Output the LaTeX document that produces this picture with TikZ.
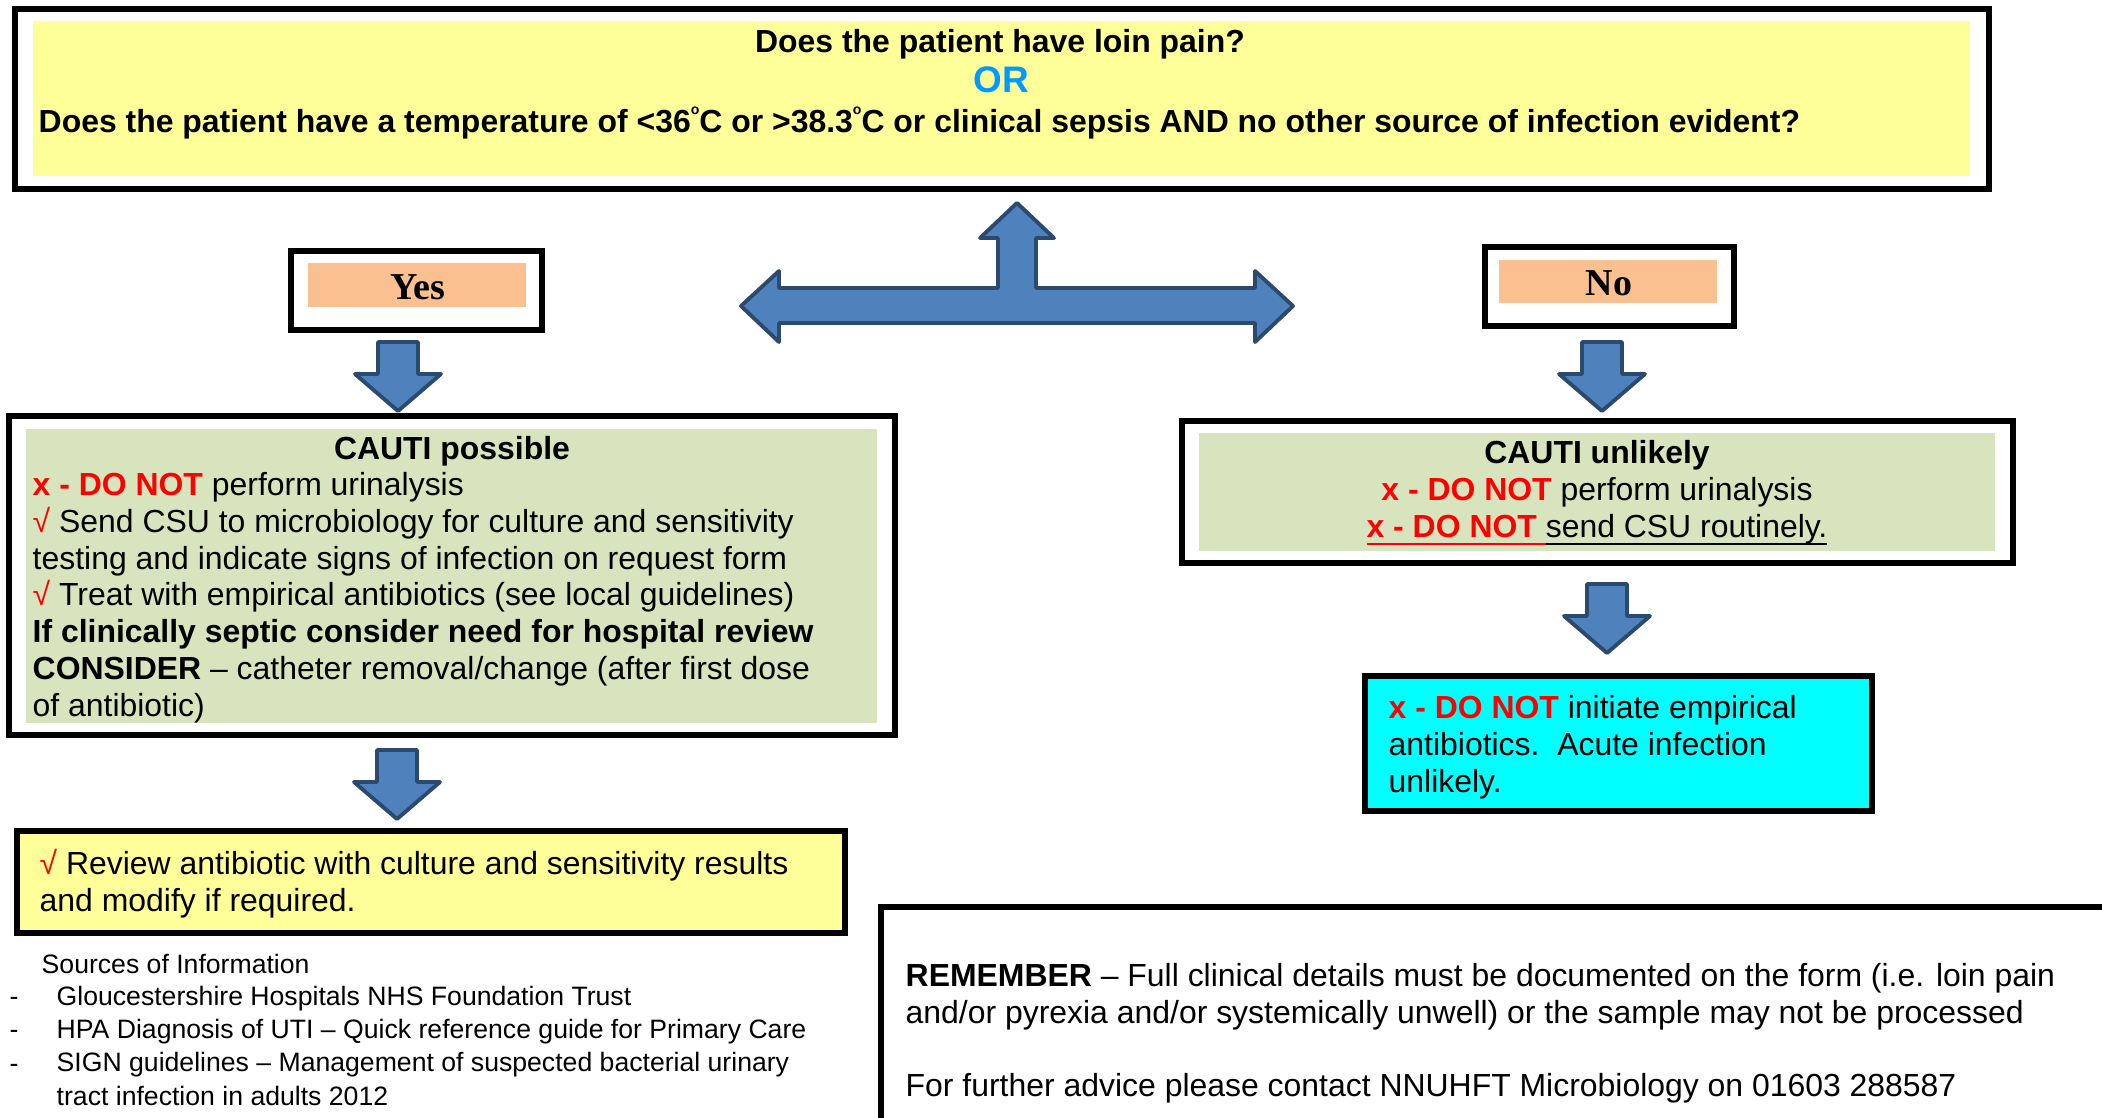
\documentclass[tikz,border=0pt]{standalone}
\usepackage{fontspec}
\setmainfont{Liberation Sans}
\newfontfamily\ynfont{Liberation Serif}

\definecolor{qyellow}{HTML}{FFFF99}
\definecolor{ynorange}{HTML}{FAC090}
\definecolor{cgreen}{HTML}{D7E4BD}
\definecolor{cyanbox}{HTML}{00FFFF}
\definecolor{arrowblue}{HTML}{4F81BD}
\definecolor{arrowedge}{HTML}{2C4A6E}
\definecolor{orblue}{HTML}{0099FF}

\newcommand{\mainsize}{\fontsize{9.08pt}{10.44pt}\selectfont}
\newcommand{\srcsize}{\fontsize{7.57pt}{9.47pt}\selectfont}
\newcommand{\donot}{\textcolor{red}{\bfseries x - DO NOT}}
\newcommand{\redtick}{\textcolor{red}{\symbol{"221A}}}
\newcommand{\degsup}{\raisebox{0.55em}{\fontsize{4pt}{4pt}\selectfont o}}
\newcommand{\thickul}[1]{\leavevmode\setbox0\hbox{#1}\rlap{\rule[-2.4pt]{\wd0}{0.6pt}}\box0}

\tikzset{
  frame/.style={draw, line width=1.7pt, inner sep=0pt},
  txt/.style={inner sep=0pt, font=\mainsize, align=left, anchor=base west},
  blockarrow/.style={fill=arrowblue, draw=arrowedge, line width=1.1pt, line join=round},
  downarrow/.pic={\draw[blockarrow] (-20,0) -- (20,0) -- (20,32) -- (43,32) -- (0,69) -- (-43,32) -- (-20,32) -- cycle;}
}

\begin{document}
\begin{tikzpicture}[x=0.01cm, y=-0.01cm]
\useasboundingbox (0,0) rectangle (2102,1118);

% coloured fills
\fill[qyellow] (33,21) rectangle (1970,176);
\fill[ynorange] (308,263) rectangle (526,307);
\fill[ynorange] (1499,260) rectangle (1717,303);
\fill[cgreen] (26,429) rectangle (877,723);
\fill[cgreen] (1199,433) rectangle (1995,551);

% frames
\node[frame, minimum width=19.72cm, minimum height=1.80cm] (question) at (1002,99) {};
\node[frame, minimum width=2.51cm, minimum height=0.79cm] (yes) at (416.5,290.5) {};
\node[frame, minimum width=2.49cm, minimum height=0.79cm] (no) at (1609.5,286.5) {};
\node[frame, minimum width=8.86cm, minimum height=3.19cm] (possible) at (452,575.5) {};
\node[frame, minimum width=8.31cm, minimum height=1.42cm] (unlikely) at (1597.5,492) {};
\node[frame, fill=qyellow, minimum width=8.28cm, minimum height=1.02cm] (review) at (431,882) {};
\node[frame, fill=cyanbox, minimum width=5.07cm, minimum height=1.35cm] (noabx) at (1618.5,743.5) {};
\draw[frame] (2102,907) -- (881,907) -- (881,1118);

% question
\node[txt, anchor=base, font=\mainsize\bfseries] (loin) at (1000,52) {Does the patient have loin pain?};
\node[txt, anchor=base, font=\fontsize{10.5pt}{12pt}\selectfont\bfseries, text=orblue] (or) at (1001,92) {OR};
\node[txt, font=\mainsize\bfseries] (temp) at (38,132) {Does the patient have a temperature of <36\degsup C or >38.3\degsup C or clinical sepsis AND no other source of infection evident?};

% central arrow
\draw[blockarrow] (1017,203) -- (1054,238) -- (1036,238) -- (1036,288) -- (1255,288) -- (1255,271) -- (1293,306)
  -- (1255,342) -- (1255,323) -- (779,323) -- (779,342) -- (741,306) -- (779,271) -- (779,288) -- (998,288)
  -- (998,238) -- (980,238) -- cycle;

% yes / no
\node[txt, anchor=base, font=\fontsize{10.8pt}{12pt}\ynfont\bfseries] (yestext) at (418,299) {Yes};
\node[txt, anchor=base, font=\fontsize{10.8pt}{12pt}\ynfont\bfseries] (notext) at (1609,295) {No};

\pic at (398,342) {downarrow};
\pic at (1602,342) {downarrow};
\pic at (397,750) {downarrow};
\pic at (1607,584) {downarrow};

% yes branch (base = last line)
\node[txt, anchor=base, font=\mainsize\bfseries] (possibletitle) at (452,459) {CAUTI possible};
\node[txt] (possibletext) at (32,716) {\donot{} perform urinalysis\\
\redtick{} Send CSU to microbiology for culture and sensitivity\\
testing and indicate signs of infection on request form\\
\redtick{} Treat with empirical antibiotics (see local guidelines)\\
\textbf{If clinically septic consider need for hospital review}\\
\textbf{CONSIDER} -- catheter removal/change (after first dose\\
of antibiotic)};
\node[txt] (reviewtext) at (39,911) {\redtick{} Review antibiotic with culture and sensitivity results\\
and modify if required.};

% no branch
\node[txt, anchor=base, align=center] (unlikelytext) at (1597,537) {\textbf{CAUTI unlikely}\\
\donot{} perform urinalysis\\
{\color{red}\bfseries\thickul{x - DO NOT }}\thickul{send CSU routinely.}};
\node[txt] (noabxtext) at (1388,792) {\donot{} initiate empirical\\
antibiotics.\ \ Acute infection\\
unlikely.};

% sources and reminder
\node[txt, font=\srcsize] (sources) at (41,973) {Sources of Information};
\node[txt, font=\srcsize] (dashes) at (9,1072) {-\\-\\-};
\node[txt, font=\srcsize] (sourcelist) at (56,1105) {Gloucestershire Hospitals NHS Foundation Trust\\
HPA Diagnosis of UTI -- Quick reference guide for Primary Care\\
SIGN guidelines -- Management of suspected bacterial urinary\\
tract infection in adults 2012};
\node[txt] (remember) at (905,1096) {\textbf{REMEMBER} -- Full clinical details must be documented on the form (i.e. loin pain\\
and/or pyrexia and/or systemically unwell) or the sample may not be processed\\[10.2pt]
For further advice please contact NNUHFT Microbiology on 01603 288587};
\end{tikzpicture}
\end{document}
